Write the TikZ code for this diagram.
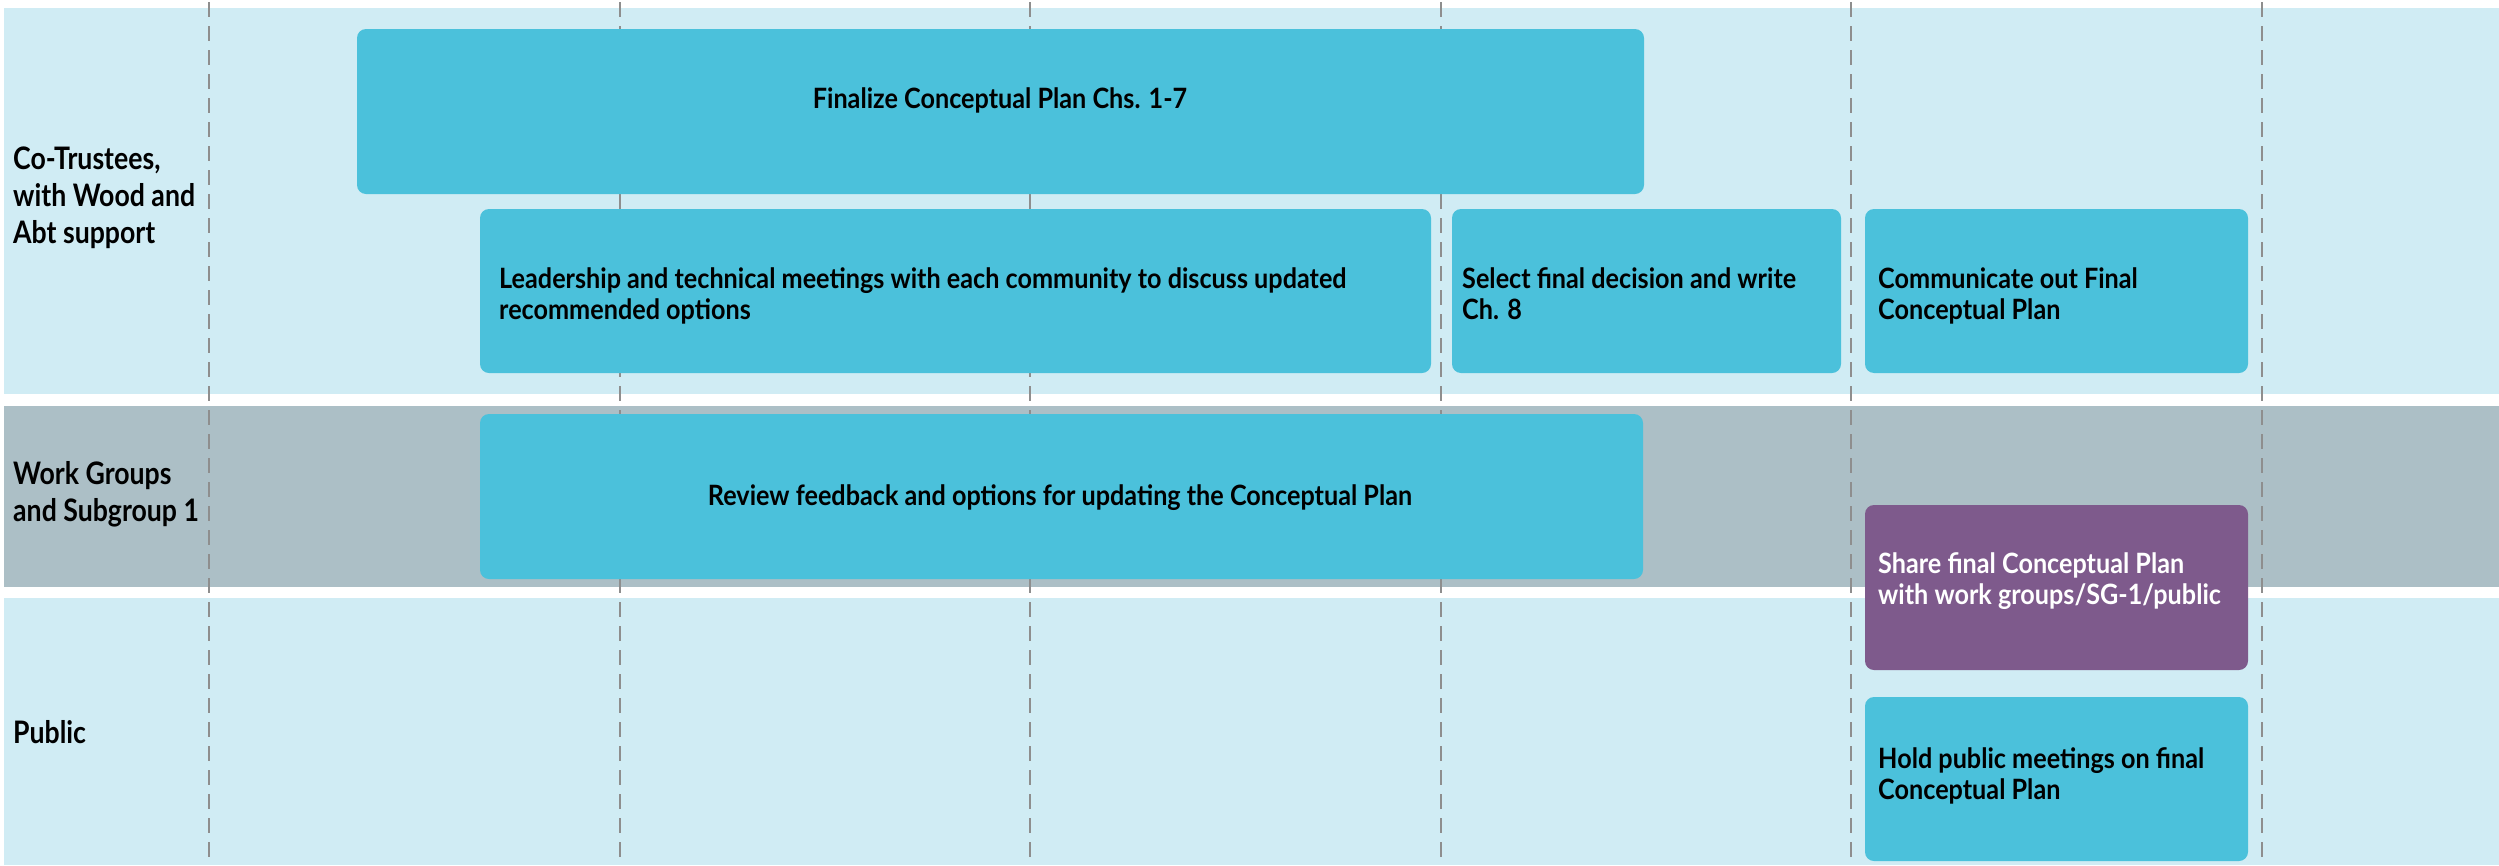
\documentclass[tikz,border=0pt]{standalone}
\usepackage{fontspec}
\setmainfont{Lato}[FakeStretch=0.9]
\newfontfamily\lanefont{Lato}[FakeStretch=0.86]
\usetikzlibrary{calc}
\definecolor{laneblue}{HTML}{D0ECF4}
\definecolor{lanegray}{HTML}{ACBFC6}
\definecolor{boxcyan}{HTML}{4BC1DB}
\definecolor{boxpurple}{HTML}{7E5A8C}
\definecolor{gridgray}{HTML}{8E8E8E}
\begin{document}
\begin{tikzpicture}[x=1pt,y=-1pt,
  lanebox/.style={anchor=north west, inner sep=0pt, outer sep=0pt, draw=none},
  task/.style={fill=boxcyan, rounded corners=9pt, anchor=north west, inner sep=0pt, outer sep=0pt},
  ptask/.style={task, fill=boxpurple},
  tasktext/.style={font=\fontsize{28}{31.5}\selectfont\bfseries, text=black, align=left, inner sep=0pt},
  lanetext/.style={font=\lanefont\fontsize{31}{37}\selectfont\bfseries, text=black, align=left, inner sep=0pt, anchor=north west},
  gridline/.style={draw=gridgray, line width=1.5pt, dash pattern=on 15pt off 9pt}]
\useasboundingbox (0,0) rectangle (2499,865);
\fill[white] (0,0) rectangle (2499,865);
% lanes
\node[lanebox, fill=laneblue, minimum width=2495pt, minimum height=386pt] (lane1) at (4,8) {};
\node[lanebox, fill=lanegray, minimum width=2495pt, minimum height=181pt] (lane2) at (4,406) {};
\node[lanebox, fill=laneblue, minimum width=2495pt, minimum height=267pt] (lane3) at (4,598) {};
% grid lines
\foreach \gx [count=\i] in {209,620,1030,1441,1851,2262}{
  \coordinate (gt\i) at (\gx,2);
  \coordinate (gb\i) at (\gx,865);
  \draw[gridline] (gt\i) -- (gb\i);
}
% lane labels
\node[lanetext] (l1) at (13,147) {Co-Trustees,\\with Wood and\\Abt support};
\node[lanetext] (l2) at (13,461) {Work Groups\\and Subgroup 1};
\node[lanetext] (l3) at (13,720) {Public};
% task boxes
\node[task, minimum width=1287pt, minimum height=165pt] (fin) at (357,29) {};
\node[task, minimum width=951pt, minimum height=164pt] (lead) at (480,209) {};
\node[task, minimum width=389pt, minimum height=164pt] (sel) at (1452,209) {};
\node[task, minimum width=383pt, minimum height=164pt] (comm) at (1865,209) {};
\node[task, minimum width=1163pt, minimum height=165pt] (rev) at (480,414) {};
\node[ptask, minimum width=383pt, minimum height=165pt] (share) at (1865,505) {};
\node[task, minimum width=383pt, minimum height=164pt] (hold) at (1865,697) {};
% task texts
\node[tasktext, anchor=base] (tfin) at (1000,108) {Finalize Conceptual Plan Chs. 1-7};
\node[tasktext, anchor=north west] (tlead) at (499,267) {Leadership and technical meetings with each community to discuss updated\\recommended options};
\node[tasktext, anchor=north west] (tsel) at (1462,267) {Select final decision and write\\Ch. 8};
\node[tasktext, anchor=north west] (tcomm) at (1878,267) {Communicate out Final\\Conceptual Plan};
\node[tasktext, anchor=base] (trev) at (1060,505) {Review feedback and options for updating the Conceptual Plan};
\node[tasktext, anchor=north west, text=white] (tshare) at (1878,552) {Share final Conceptual Plan\\with work groups/SG-1/public};
\node[tasktext, anchor=north west] (thold) at (1878,747) {Hold public meetings on final\\Conceptual Plan};
\end{tikzpicture}
\end{document}
